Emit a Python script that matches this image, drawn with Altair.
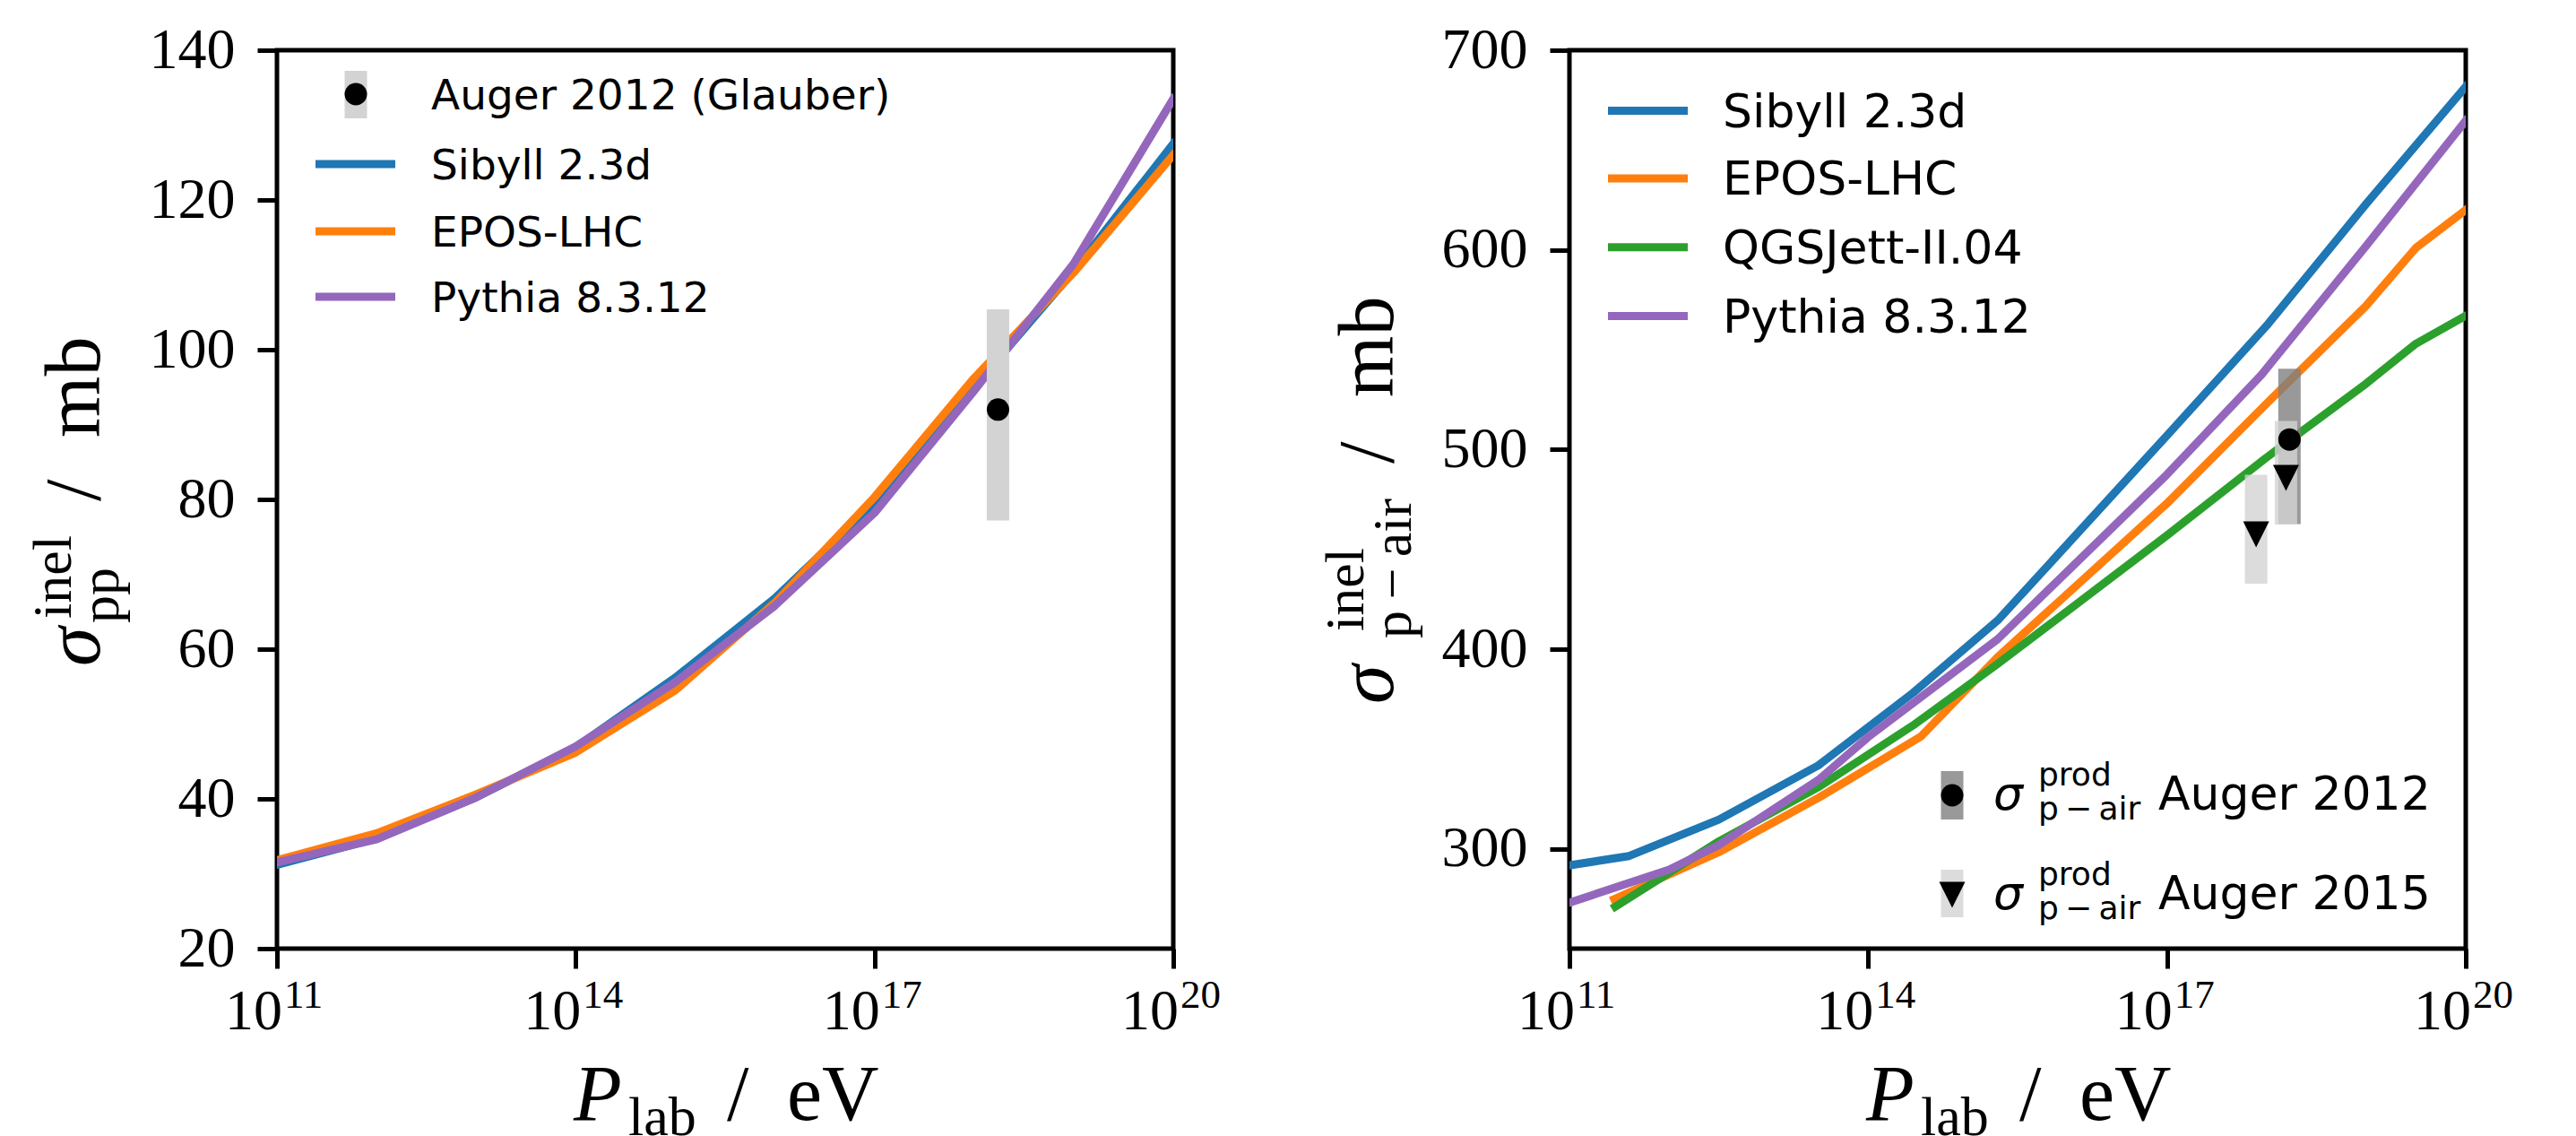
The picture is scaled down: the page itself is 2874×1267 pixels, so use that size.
import altair as alt
import pandas as pd

# ---------------- data ----------------
# left panel: sigma_pp^inel [mb] vs log10(P_lab / eV)
LOGP_PP = [11, 12, 13, 14, 15, 16, 17, 18, 19, 20]
SIBYLL_PP = [31.2, 34.7, 40.2, 46.9, 56.2, 66.8, 79.5, 95.0, 110.5, 127.5]
EPOS_PP = [31.8, 35.4, 40.6, 46.2, 54.5, 66.2, 80.3, 96.2, 110.3, 126.0]
PYTHIA_PP = [31.5, 34.6, 40.2, 47.0, 55.6, 65.8, 78.2, 94.5, 111.5, 133.5]

AUGER_PP_LOGP = [18.24]
AUGER_PP_VAL = [92.0]
AUGER_PP_LO = [77.2]
AUGER_PP_HI = [105.4]

# right panel: sigma_p-air^inel [mb]
SIBYLL_AIR_LOGP = [11, 11.6, 12.5, 13.5, 14.45, 15.3, 17, 18, 19, 20]
SIBYLL_AIR = [291.7, 296.4, 314.6, 341.8, 378.1, 414.4, 507.0, 562.0, 623.0, 681.8]
EPOS_AIR_LOGP = [11.45, 12.5, 13.5, 14.53, 15.3, 17, 18, 19, 19.5, 20]
EPOS_AIR = [274.8, 298.3, 325.5, 356.3, 396.0, 473.0, 523.0, 572.0, 601.0, 620.0]
QGS_AIR_LOGP = [11.46, 12.5, 13.5, 14.45, 15.3, 17, 18, 19, 19.5, 20]
QGS_AIR = [271.0, 303.7, 330.9, 361.8, 392.6, 457.0, 496.0, 533.0, 553.0, 567.0]
PYTHIA_AIR_LOGP = [11, 12, 12.5, 13.5, 14, 15.3, 17, 17.95, 19, 20]
PYTHIA_AIR = [273.0, 289.5, 301.9, 334.5, 356.0, 405.0, 487.5, 537.5, 602.0, 664.7]

AUGER12_LOGP = [18.23]
AUGER12_VAL = [505.0]
AUGER12_LO = [462.7]
AUGER12_HI = [540.5]

AUGER15_LOGP = [17.895, 18.195]
AUGER15_VAL = [457.5, 485.8]
AUGER15_LO = [432.8, 462.4]
AUGER15_HI = [487.4, 514.3]

X_TICKS = [11, 14, 17, 20]
PP_TICKS = [20, 40, 60, 80, 100, 120, 140]
AIR_TICKS = [300, 400, 500, 600, 700]

NAMES = {"sib": "Sibyll 2.3d", "epos": "EPOS-LHC", "qgs": "QGSJett-II.04", "py": "Pythia 8.3.12"}
COLORS = {"sib": "#1f77b4", "epos": "#ff7f0e", "qgs": "#2ca02c", "py": "#9467bd"}

# ---------------- layout / style ----------------
W, H = 1000, 1002
SERIF = "Liberation Serif"
SANS = "DejaVu Sans"
LW = 9
ONE = pd.DataFrame({"k": [0]})


def pw(logs):
    return [10.0 ** v for v in logs]


XSCALE = alt.Scale(type="log", domain=[1e11, 1e20], nice=False)
XAXIS = alt.Axis(values=pw(X_TICKS), labels=False, title=None, domain=False, grid=False,
                 tickSize=22, tickWidth=5, tickColor="black")


def yaxis(vals):
    return alt.Axis(values=vals, title=None, domain=False, grid=False, tickSize=22, tickWidth=5,
                    tickColor="black", labelFont=SERIF, labelFontSize=64, labelPadding=25,
                    labelColor="black", labelFlush=False, labelOverlap=False)


def X():
    return alt.X("P:Q", scale=XSCALE, axis=XAXIS)


def text(t, x, y, size, font=SERIF, style="normal", angle=0, align="left", baseline="alphabetic"):
    kw = dict(text=t, font=font, fontSize=size, fontStyle=style, align=align, baseline=baseline,
              color="black")
    if angle:
        kw["angle"] = angle
    return alt.Chart(ONE).mark_text(**kw).encode(x=alt.value(x), y=alt.value(y))


def hline(x1, x2, y, color, width):
    return alt.Chart(ONE).mark_rule(color=color, strokeWidth=width).encode(
        x=alt.value(x1), x2=alt.value(x2), y=alt.value(y))


def vbox(x, y1, y2, color, opacity=1.0):
    return alt.Chart(ONE).mark_rule(color=color, strokeWidth=25, opacity=opacity).encode(
        x=alt.value(x), y=alt.value(y1), y2=alt.value(y2))


def marker(x, y, shape, size):
    return alt.Chart(ONE).mark_point(shape=shape, size=size, filled=True, color="black",
                                     opacity=1, strokeWidth=0).encode(x=alt.value(x), y=alt.value(y))


def panel(series, yscale, yax, points, legend_layers, ytitle_layers):
    layers = []
    for key, logs, vals in series:
        df = pd.DataFrame({"P": pw(logs), "s": vals})
        layers.append(alt.Chart(df).mark_line(color=COLORS[key], strokeWidth=LW, strokeCap="square",
                                              strokeJoin="round", clip=True).encode(
            x=X(), y=alt.Y("s:Q", scale=yscale, axis=yax)))
    for logs, vals, lo, hi, color, op, shape, size in points:
        df = pd.DataFrame({"P": pw(logs), "v": vals, "lo": lo, "hi": hi})
        layers.append(alt.Chart(df).mark_rule(color=color, strokeWidth=25, opacity=op).encode(
            x=X(), y=alt.Y("lo:Q", scale=yscale, axis=yax), y2="hi:Q"))
    for logs, vals, lo, hi, color, op, shape, size in points:
        df = pd.DataFrame({"P": pw(logs), "v": vals})
        layers.append(alt.Chart(df).mark_point(shape=shape, size=size, filled=True, color="black",
                                               opacity=1, strokeWidth=0).encode(
            x=X(), y=alt.Y("v:Q", scale=yscale, axis=yax)))
    # x tick labels 10^n
    xt = pd.DataFrame({"P": pw(X_TICKS), "e": [str(v) for v in X_TICKS]})
    layers.append(alt.Chart(xt).mark_text(text="10", font=SERIF, fontSize=64, align="right", dx=6,
                                          baseline="alphabetic", color="black").encode(
        x=X(), y=alt.value(H + 90)))
    layers.append(alt.Chart(xt).mark_text(font=SERIF, fontSize=45, align="left", dx=8,
                                          baseline="alphabetic", color="black").encode(
        x=X(), y=alt.value(H + 66), text="e:N"))
    # x title  P_lab / eV
    layers += [text("P", 331, H + 191, 88, style="italic"),
               text("lab", 392, H + 208, 62),
               text("/", 502, H + 191, 88),
               text("eV", 569, H + 191, 88)]
    layers += ytitle_layers + legend_layers
    return alt.layer(*layers).properties(
        width=W, height=H, view=alt.ViewBackground(stroke="black", strokeWidth=5, fill="white"))


# ---------------- left panel ----------------
left_series = [("sib", LOGP_PP, SIBYLL_PP), ("epos", LOGP_PP, EPOS_PP), ("py", LOGP_PP, PYTHIA_PP)]
left_points = [(AUGER_PP_LOGP, AUGER_PP_VAL, AUGER_PP_LO, AUGER_PP_HI, "#d3d3d3", 1.0, "circle", 625)]
left_legend = [vbox(88, 23, 76, "#d3d3d3"), marker(88, 49, "circle", 625),
               text("Auger 2012 (Glauber)", 172, 49 + 17, 47, font=SANS)]
for i, key in enumerate(["sib", "epos", "py"]):
    yy = [127, 202, 275][i]
    left_legend += [hline(43, 132, yy, COLORS[key], LW), text(NAMES[key], 172, yy + 17, 47, font=SANS)]
left_ytitle = [text("σ", -198, 687, 88, style="italic", angle=270),
               text("inel", -230, 634, 62, angle=270),
               text("pp", -177, 639, 62, angle=270),
               text("/", -198, 503, 88, angle=270),
               text("mb", -198, 432, 88, angle=270)]
left = panel(left_series, alt.Scale(domain=[20, 140], nice=False), yaxis(PP_TICKS), left_points,
             left_legend, left_ytitle)

# ---------------- right panel ----------------
TRI = "M-1,-1L1,-1L0,1Z"
right_series = [("sib", SIBYLL_AIR_LOGP, SIBYLL_AIR), ("epos", EPOS_AIR_LOGP, EPOS_AIR),
                ("qgs", QGS_AIR_LOGP, QGS_AIR), ("py", PYTHIA_AIR_LOGP, PYTHIA_AIR)]
right_points = [(AUGER12_LOGP, AUGER12_VAL, AUGER12_LO, AUGER12_HI, "gray", 0.8, "circle", 625),
                (AUGER15_LOGP, AUGER15_VAL, AUGER15_LO, AUGER15_HI, "#d3d3d3", 0.8, TRI, 841)]
right_legend = []
for i, key in enumerate(["sib", "epos", "qgs", "py"]):
    yy = [67.5, 143, 219.7, 296.5][i]
    right_legend += [hline(43, 132, yy, COLORS[key], LW), text(NAMES[key], 171, yy + 18, 52, font=SANS)]
for (b1, b2, my, shape, size, col, op, yr, lab) in [
        (804, 858, 831, "circle", 625, "gray", 0.8, 847, "Auger 2012"),
        (914, 967, 942, TRI, 841, "#d3d3d3", 0.8, 958, "Auger 2015")]:
    right_legend += [vbox(427, b1, b2, col, op), marker(427, my, shape, size),
                     text("σ", 473, yr, 52, font=SANS, style="italic"),
                     text("prod", 523, yr - 27, 36, font=SANS),
                     text("p\u2009\u2212\u2009air", 523, yr + 11, 36, font=SANS),
                     text(lab, 657, yr, 52, font=SANS)]
right_ytitle = [text("σ", -197, 729, 88, style="italic", angle=270),
                text("inel", -230, 648, 62, angle=270),
                text("p\u2009\u2212\u2009air", -177, 656, 62, angle=270),
                text("/", -197, 461, 88, angle=270),
                text("mb", -197, 387, 88, angle=270)]
right = panel(right_series, alt.Scale(domain=[250, 700], nice=False), yaxis(AIR_TICKS), right_points,
              right_legend, right_ytitle)

chart = alt.hconcat(left, right, spacing=442, bounds="flush").properties(
    padding={"left": 18, "top": 13, "right": 5, "bottom": 0}, background="white")

chart.save("out.html", embed_options={"renderer": "svg", "actions": False})
